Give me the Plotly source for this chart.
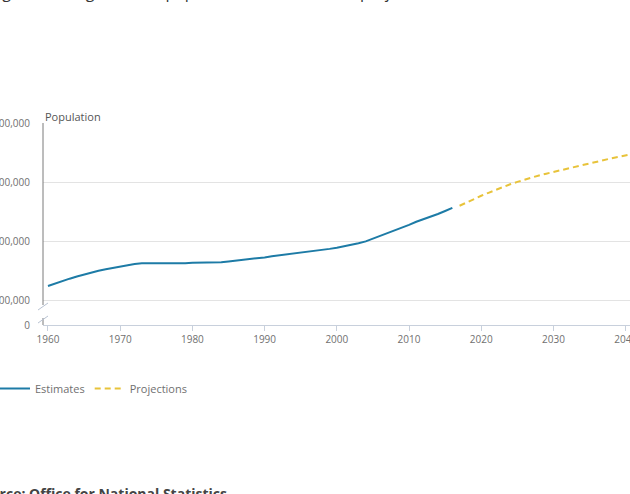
import plotly.graph_objects as go

# ---- data ----
est_years = list(range(1960, 2017))
est_pop = [52373, 52807, 53292, 53625, 53991, 54350, 54643, 54959, 55214, 55461,
           55632, 55928, 56097, 56223, 56236, 56226, 56216, 56190, 56178, 56240,
           56330, 56357, 56291, 56316, 56409, 56554, 56684, 56804, 56916, 57076,
           57237, 57439, 57585, 57714, 57862, 58025, 58164, 58314, 58475, 58684,
           58886, 59113, 59366, 59637, 59950, 60413, 60827, 61319, 61824, 62260,
           62759, 63285, 63705, 64106, 64597, 65110, 65648]
proj_years = list(range(2017, 2042))
proj_pop = [66000, 66600, 67150, 67700, 68200, 68700, 69200, 69650, 70050, 70450,
            70800, 71150, 71450, 71750, 72050, 72350, 72650, 72950, 73250, 73500,
            73800, 74050, 74300, 74550, 74800]
y_tickvals = [45760, 50000, 60000, 70000, 80000]
y_ticktext = ["0", "50,000,000", "60,000,000", "70,000,000", "80,000,000"]
x_ticks = [1960, 1970, 1980, 1990, 2000, 2010, 2020, 2030, 2040]

est_vals = [v * 1000 for v in est_pop]
proj_vals = [v * 1000 for v in proj_pop]

BLUE = "#1d7ba6"
YELLOW = "#e8c33a"
GREY = "#707070"

fig = go.Figure()
fig.add_trace(go.Scatter(x=est_years, y=est_vals, mode="lines", name="Estimates",
                         line=dict(color=BLUE, width=2)))
fig.add_trace(go.Scatter(x=proj_years, y=proj_vals, mode="lines", name="Projections",
                         line=dict(color=YELLOW, width=2, dash="6px,4px")))

# plot area in pixels: left 43, right 630, top 123, bottom 325
L, R, T, B = 43, 630, 123, 325
W, H = R - L, B - T
def px_x(px):
    return (px - L) / W
def px_y(py):
    return (B - py) / H

fig.update_layout(
    width=630, height=494,
    margin=dict(l=L, r=0, t=T, b=494 - B, autoexpand=False),
    paper_bgcolor="white", plot_bgcolor="white",
    font=dict(family="Open Sans", color=GREY, size=10),
    showlegend=True,
    legend=dict(orientation="h", x=px_x(-5), xanchor="left", y=px_y(374), yanchor="top",
                font=dict(size=11, color=GREY), itemwidth=30, tracegroupgap=0),
    xaxis=dict(range=[1959.31, 2040.6], tickmode="array", tickvals=x_ticks,
               showgrid=False, zeroline=False, showline=True, linecolor="#c8d0dc",
               linewidth=1, ticks="outside", ticklen=5, tickcolor="#c8d0dc",
               ticklabeloverflow="allow",
               tickfont=dict(size=10, color=GREY), automargin=False),
    yaxis=dict(range=[y_tickvals[0] * 1000, 80050000], tickmode="array",
               tickvals=[v * 1000 for v in y_tickvals], ticktext=y_ticktext,
               showgrid=True, gridcolor="#e3e3e3", gridwidth=1, zeroline=False,
               showline=False, ticks="", ticklabelstandoff=12,
               ticklabeloverflow="allow",
               tickfont=dict(size=10, color=GREY), automargin=False),
)

shapes = []
# y axis line with break
shapes.append(dict(type="line", xref="paper", yref="paper", x0=0, x1=0,
                   y0=px_y(305), y1=1, line=dict(color="#7a7a7a", width=1)))
shapes.append(dict(type="line", xref="paper", yref="paper", x0=0, x1=0,
                   y0=0, y1=px_y(318), line=dict(color="#7a7a7a", width=1)))
# break marks
shapes.append(dict(type="line", xref="paper", yref="paper", x0=px_x(38), x1=px_x(48),
                   y0=px_y(310), y1=px_y(303), line=dict(color="#b8c2d2", width=1)))
shapes.append(dict(type="line", xref="paper", yref="paper", x0=px_x(38), x1=px_x(48),
                   y0=px_y(323), y1=px_y(316), line=dict(color="#b8c2d2", width=1)))
fig.update_layout(shapes=shapes)

fig.add_annotation(text="Population", xref="paper", yref="paper", x=0, y=px_y(116),
                   xanchor="left", yanchor="middle", showarrow=False,
                   font=dict(size=11, color="#555555"))
fig.add_annotation(text="Figure 1: Long-term UK population estimates and projections",
                   xref="paper", yref="paper", x=px_x(-12), y=px_y(5),
                   xanchor="left", yanchor="bottom", showarrow=False,
                   font=dict(size=16, color="#333333"))
fig.add_annotation(text="<b>Source: Office for National Statistics</b>",
                   xref="paper", yref="paper", x=px_x(-28), y=px_y(482),
                   xanchor="left", yanchor="top", showarrow=False,
                   font=dict(size=14, color="#444444"))

fig.write_html("out.html", config={"displayModeBar": False},
               post_script="document.body.style.margin='0';")
